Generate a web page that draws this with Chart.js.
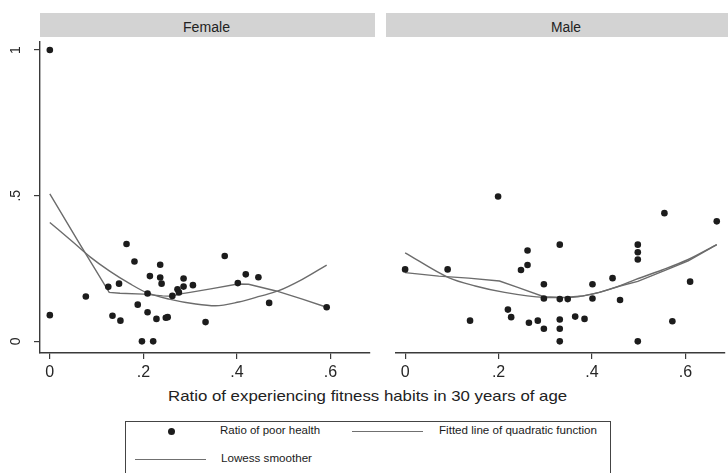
<!DOCTYPE html>
<html>
<head>
<meta charset="utf-8">
<script src="https://cdn.jsdelivr.net/npm/chart.js@4/dist/chart.umd.min.js"></script>
<style>
  html, body { margin: 0; padding: 0; }
  body {
    width: 728px; height: 473px; overflow: hidden; position: relative;
    background: #ffffff; font-family: "Liberation Sans", Arial, sans-serif; color: #222;
  }
  .strip { position: absolute; top: 13px; height: 24px; background: #d3d3d3; }
  .abs { position: absolute; white-space: nowrap; line-height: 1; }
  .fit { display: inline-block; transform-origin: 0 50%; }
  canvas { position: absolute; }
  #legendBox { position: absolute; left: 125px; top: 421px; width: 484px; height: 80px; border: 1px solid #444; }
  .lline { position: absolute; height: 0; border-top: 1.3px solid #707070; }
  .ldot { position: absolute; width: 7px; height: 7px; border-radius: 50%; background: #1c1c1c; }
  .ltxt { color: #1a1a1a; }
</style>
</head>
<body>

<div class="strip" style="left:40px; width:335px;"></div>
<div class="strip" style="left:386px; width:342px;"></div>
<div class="abs" style="left:183px; top:20px; font-size:14px;"><span class="fit" data-w="47">Female</span></div>
<div class="abs" style="left:551px; top:20px; font-size:14px;"><span class="fit" data-w="30">Male</span></div>

<canvas id="female" width="373" height="347" style="left:0px; top:38px;"></canvas>
<canvas id="male" width="336" height="347" style="left:392px; top:38px;"></canvas>

<div class="abs" style="left:168px; top:388px; font-size:15px;"><span class="fit" data-w="399">Ratio of experiencing fitness habits in 30 years of age</span></div>

<div id="legendBox"></div>
<div class="ldot" style="left:168px; top:428px;"></div>
<div class="abs ltxt" style="left:220px; top:426px; font-size:10px;"><span class="fit" data-w="100">Ratio of poor health</span></div>
<div class="lline" style="left:352px; width:71px; top:431px;"></div>
<div class="abs ltxt" style="left:439px; top:426px; font-size:10px;"><span class="fit" data-w="158">Fitted line of quadratic function</span></div>
<div class="lline" style="left:135px; width:71px; top:459px;"></div>
<div class="abs ltxt" style="left:221px; top:454px; font-size:10px;"><span class="fit" data-w="91">Lowess smoother</span></div>

<script>
// ---- axis ticks ----
const xTicks = [0, 0.2, 0.4, 0.6];
const xTickLabels = ["0", ".2", ".4", ".6"];
const yTicks = [0, 0.5, 1];
const yTickLabels = ["0", ".5", "1"];

// ---- Female: ratio of poor health by fitness-habit ratio ----
const femaleX = [0, 0, 0.077, 0.125, 0.134, 0.151, 0.148, 0.164, 0.181, 0.188, 0.197, 0.209,
  0.214, 0.209, 0.221, 0.228, 0.236, 0.236, 0.239, 0.248, 0.252, 0.262, 0.273, 0.276,
  0.286, 0.286, 0.306, 0.333, 0.374, 0.402, 0.419, 0.446, 0.469, 0.592];
const femaleY = [1.0, 0.09, 0.154, 0.187, 0.088, 0.071, 0.198, 0.334, 0.274, 0.126, 0, 0.1,
  0.224, 0.164, 0, 0.077, 0.263, 0.219, 0.198, 0.081, 0.083, 0.156, 0.179, 0.168,
  0.216, 0.188, 0.193, 0.066, 0.293, 0.2, 0.23, 0.22, 0.132, 0.117];

// Female fitted quadratic
const femaleQuadX = [0, 0.05, 0.086, 0.128, 0.171, 0.206, 0.255, 0.312, 0.354, 0.404, 0.45, 0.488, 0.54, 0.592];
const femaleQuadY = [0.408, 0.34, 0.29, 0.241, 0.198, 0.168, 0.145, 0.128, 0.122, 0.135, 0.155, 0.173, 0.213, 0.262];

// Female lowess smoother
const femaleLowX = [0, 0.06, 0.127, 0.15, 0.2, 0.241, 0.262, 0.276, 0.3, 0.347, 0.402, 0.425, 0.484, 0.54, 0.592];
const femaleLowY = [0.506, 0.345, 0.168, 0.165, 0.162, 0.156, 0.155, 0.162, 0.168, 0.181, 0.197, 0.196, 0.173, 0.145, 0.117];

// ---- Male ----
const maleX = [0, 0.091, 0.139, 0.199, 0.22, 0.227, 0.248, 0.262, 0.262, 0.265, 0.284, 0.297,
  0.297, 0.297, 0.331, 0.331, 0.331, 0.331, 0.331, 0.348, 0.364, 0.384, 0.401, 0.401,
  0.444, 0.46, 0.498, 0.498, 0.498, 0.498, 0.555, 0.572, 0.61, 0.667];
const maleY = [0.247, 0.247, 0.071, 0.497, 0.109, 0.083, 0.245, 0.312, 0.262, 0.064, 0.071, 0.196,
  0.147, 0.043, 0.332, 0.145, 0.075, 0.043, 0, 0.145, 0.085, 0.077, 0.196, 0.147,
  0.217, 0.142, 0.332, 0.306, 0.281, 0, 0.44, 0.069, 0.205, 0.412];

// Male fitted quadratic
const maleQuadX = [0, 0.093, 0.15, 0.213, 0.297, 0.345, 0.401, 0.45, 0.494, 0.55, 0.606, 0.667];
const maleQuadY = [0.304, 0.219, 0.19, 0.168, 0.151, 0.15, 0.162, 0.185, 0.213, 0.245, 0.281, 0.332];

// Male lowess smoother
const maleLowX = [0, 0.072, 0.136, 0.202, 0.241, 0.297, 0.339, 0.381, 0.416, 0.46, 0.498, 0.555, 0.606, 0.667];
const maleLowY = [0.236, 0.224, 0.217, 0.207, 0.185, 0.153, 0.151, 0.156, 0.168, 0.19, 0.206, 0.243, 0.276, 0.332];

// ---- shared look ----
const FONT = '"Liberation Sans", Arial, sans-serif';
const X_MIN = -0.021, X_MAX = 0.684, Y_MIN = -0.04, Y_MAX = 1.03;
const AXIS = '#3a3a3a';
const LINE = '#6c6c6c';

const zip = (xs, ys) => xs.map((x, i) => ({ x: x, y: ys[i] }));

// rotated y tick labels on the left panel
const yLabelPlugin = {
  id: 'yLabels',
  afterDraw(chart) {
    if (!chart.options.plugins.yLabels || !chart.options.plugins.yLabels.show) return;
    const ys = chart.scales.y, ctx = chart.ctx;
    ctx.save();
    ctx.fillStyle = '#262626';
    ctx.font = '14px ' + FONT;
    ctx.textAlign = 'center';
    ctx.textBaseline = 'middle';
    yTicks.forEach((v, i) => {
      ctx.save();
      ctx.translate(16, ys.getPixelForValue(v));
      ctx.rotate(-Math.PI / 2);
      ctx.fillText(yTickLabels[i], 0, 0);
      ctx.restore();
    });
    ctx.restore();
  }
};

function makePanel(id, px, py, qx, qy, lx, ly, showY) {
  return new Chart(document.getElementById(id), {
    type: 'scatter',
    data: {
      datasets: [
        { data: zip(px, py), pointRadius: 3.3, pointHoverRadius: 3.3, backgroundColor: '#1c1c1c', borderWidth: 0, order: 0 },
        { data: zip(qx, qy), showLine: true, pointRadius: 0, borderColor: LINE, borderWidth: 1.4,
          cubicInterpolationMode: 'monotone', tension: 0.4, fill: false, order: 1 },
        { data: zip(lx, ly), showLine: true, pointRadius: 0, borderColor: LINE, borderWidth: 1.4,
          tension: 0, fill: false, order: 2 }
      ]
    },
    options: {
      responsive: false, animation: false, devicePixelRatio: 1,
      layout: { padding: 0 },
      plugins: { legend: { display: false }, tooltip: { enabled: false }, yLabels: { show: showY } },
      scales: {
        x: {
          type: 'linear', min: X_MIN, max: X_MAX,
          afterBuildTicks: s => { s.ticks = xTicks.map(v => ({ value: v })); },
          afterFit: s => { s.height = 32; s.paddingLeft = 0; s.paddingRight = 0; },
          ticks: { autoSkip: false, maxRotation: 0, minRotation: 0, padding: 4, color: '#262626',
                   font: { size: 16, family: FONT },
                   callback: v => { const i = xTicks.indexOf(v); return i >= 0 ? xTickLabels[i] : ''; } },
          grid: { drawOnChartArea: false, drawTicks: true, tickLength: 6, color: AXIS, lineWidth: 1.2 },
          border: { display: true, color: AXIS, width: 1.4 }
        },
        y: {
          type: 'linear', min: Y_MIN, max: Y_MAX, display: showY,
          afterBuildTicks: s => { s.ticks = yTicks.map(v => ({ value: v })); },
          afterFit: s => { s.width = showY ? 40 : 0; },
          ticks: { display: false },
          grid: { drawOnChartArea: false, drawTicks: true, tickLength: 6, color: AXIS, lineWidth: 1.2 },
          border: { display: true, color: AXIS, width: 1.4 }
        }
      }
    },
    plugins: [yLabelPlugin]
  });
}

makePanel('female', femaleX, femaleY, femaleQuadX, femaleQuadY, femaleLowX, femaleLowY, true);
makePanel('male', maleX, maleY, maleQuadX, maleQuadY, maleLowX, maleLowY, false);

// squeeze text spans to their measured widths
document.querySelectorAll('.fit').forEach(el => {
  const target = parseFloat(el.dataset.w);
  const w = el.getBoundingClientRect().width;
  if (w > 0) el.style.transform = 'scaleX(' + (target / w).toFixed(3) + ')';
});
</script>
</body>
</html>
